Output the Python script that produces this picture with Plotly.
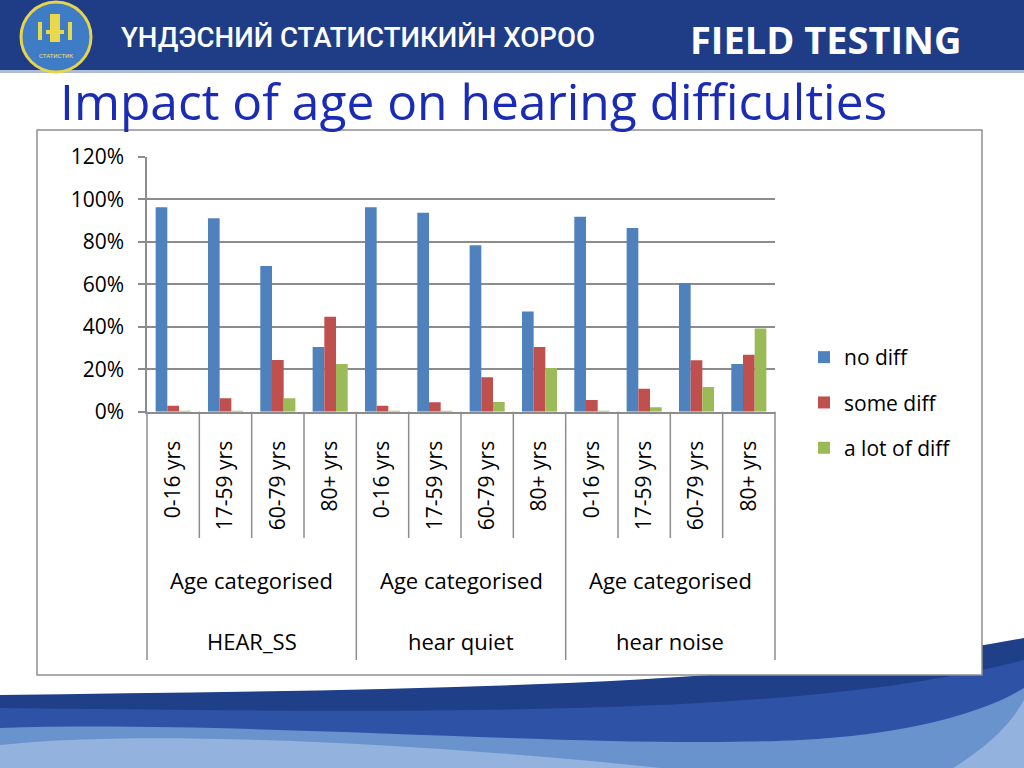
import plotly.graph_objects as go

# ---------------- data ----------------
groups = ["HEAR_SS", "hear quiet", "hear noise"]
level2 = "Age categorised"
ages = ["0-16 yrs", "17-59 yrs", "60-79 yrs", "80+ yrs"]
series_names = ["no diff", "some diff", "a lot of diff"]
no_diff = [96.2, 91.0, 68.6, 30.4, 96.2, 93.6, 78.3, 47.2, 91.8, 86.4, 60.6, 22.4]
some_diff = [2.8, 6.3, 24.3, 44.7, 2.8, 4.4, 16.2, 30.4, 5.5, 10.8, 24.2, 26.8]
a_lot_diff = [0.4, 0.3, 6.3, 22.4, 0.3, 0.2, 4.6, 20.6, 0.2, 2.1, 11.6, 39.2]
y_ticks = [0, 20, 40, 60, 80, 100, 120]
y_tick_labels = [f"{v}%" for v in y_ticks]

colors = ["#4F81BD", "#C0504D", "#9BBB59"]
W, H = 1024, 768
FONT = "Open Sans"
GRAY = "#8C8C8C"

keys = [f"{g}|{a}" for g in groups for a in ages]
tick_text = [a for g in groups for a in ages]

def px(x):
    return x / W

def py(y):
    return 1 - y / H

def P(x, y):
    return f"{px(x):.4f},{py(y):.4f}"

fig = go.Figure()
for name, vals, col in zip(series_names, [no_diff, some_diff, a_lot_diff], colors):
    fig.add_trace(go.Bar(x=keys, y=vals, name=name, marker=dict(color=col, line=dict(width=0)),
                         legendgroup=name))

# plot area geometry (pixels)
X0, X1 = 147, 775
Y0, Y1 = 411.7, 156.7

shapes = []
# footer waves
shapes.append(dict(type="path", xref="paper", yref="paper", layer="below", line=dict(width=0),
                   fillcolor="#1F3F88",
                   path=f"M {P(0,695)} C {P(350,690)} {P(750,690)} {P(1024,638)} L {P(1024,770)} L {P(0,770)} Z"))
shapes.append(dict(type="path", xref="paper", yref="paper", layer="below", line=dict(width=0),
                   fillcolor="#2E52A6",
                   path=f"M {P(0,708)} C {P(400,712)} {P(800,720)} {P(1024,660)} L {P(1024,770)} L {P(0,770)} Z"))
shapes.append(dict(type="path", xref="paper", yref="paper", layer="below", line=dict(width=0),
                   fillcolor="#6993CD",
                   path=f"M {P(0,728)} C {P(250,720)} {P(600,750)} {P(800,740)} C {P(900,735)} {P(980,715)} {P(1024,688)} L {P(1024,770)} L {P(0,770)} Z"))
shapes.append(dict(type="path", xref="paper", yref="paper", layer="below", line=dict(width=0),
                   fillcolor="#93B2DD",
                   path=f"M {P(0,745)} C {P(150,728)} {P(450,745)} {P(680,770)} L {P(0,770)} Z"))
shapes.append(dict(type="path", xref="paper", yref="paper", layer="below", line=dict(width=0),
                   fillcolor="#93B2DD",
                   path=f"M {P(950,770)} C {P(990,745)} {P(1010,725)} {P(1024,700)} L {P(1024,770)} Z"))
# header
shapes.append(dict(type="rect", xref="paper", yref="paper", layer="below", line=dict(width=0),
                   fillcolor="#1F3D86", x0=0, x1=1, y0=py(70), y1=1))
shapes.append(dict(type="rect", xref="paper", yref="paper", layer="below", line=dict(width=0),
                   fillcolor="#AEBCD8", x0=0, x1=1, y0=py(73), y1=py(70)))
# logo
shapes.append(dict(type="circle", xref="paper", yref="paper", layer="below",
                   line=dict(color="#E5D44C", width=3), fillcolor="#3F7CC6",
                   x0=px(21), x1=px(91), y0=py(72), y1=py(2)))
for (a, b, c, d) in [(50, 14, 60, 42), (38, 22, 42, 40), (68, 22, 72, 40), (46, 30, 64, 34)]:
    shapes.append(dict(type="rect", xref="paper", yref="paper", layer="below", line=dict(width=0),
                       fillcolor="#E8D84A", x0=px(a), x1=px(c), y0=py(d), y1=py(b)))
# chart box
shapes.append(dict(type="rect", xref="paper", yref="paper", layer="below",
                   line=dict(color="#8F8F8F", width=1.5), fillcolor="white",
                   x0=px(37), x1=px(982), y0=py(675), y1=py(130)))
# category separators
n = len(keys)
for k in range(n + 1):
    long_line = (k % len(ages) == 0)
    shapes.append(dict(type="line", xref="x domain", yref="paper",
                       x0=k / n, x1=k / n, y0=py(Y0), y1=py(660 if long_line else 538),
                       line=dict(color=GRAY, width=1.5)))

annotations = []
# header texts
annotations.append(dict(text="ҮНДЭСНИЙ СТАТИСТИКИЙН ХОРОО", x=px(119), y=py(38), xref="paper", yref="paper",
                        xanchor="left", yanchor="middle", showarrow=False,
                        font=dict(family="Roboto", size=27.6, color="white", weight=500)))
annotations.append(dict(text="<b>FIELD TESTING</b>", x=px(825), y=py(39), xref="paper", yref="paper",
                        xanchor="center", yanchor="middle", showarrow=False,
                        font=dict(family=FONT, size=38, color="white")))
annotations.append(dict(text="СТАТИСТИК", x=px(56), y=py(55), xref="paper", yref="paper",
                        xanchor="center", yanchor="middle", showarrow=False,
                        font=dict(family="Roboto", size=6, color="#F2E06A")))
# title
annotations.append(dict(text="Impact of age on hearing difficulties", x=px(58), y=py(101), xref="paper", yref="paper",
                        xanchor="left", yanchor="middle", showarrow=False,
                        font=dict(family=FONT, size=49.7, color="#1A2BB5")))
# group labels
for gi, g in enumerate(groups):
    xc = (gi * len(ages) + len(ages) / 2) / n
    annotations.append(dict(text=level2, x=xc, y=py(580), xref="x domain", yref="paper",
                            xanchor="center", yanchor="middle", showarrow=False,
                            font=dict(family=FONT, size=22, color="black")))
    annotations.append(dict(text=g, x=xc, y=py(641), xref="x domain", yref="paper",
                            xanchor="center", yanchor="middle", showarrow=False,
                            font=dict(family=FONT, size=22, color="black")))

fig.update_layout(
    width=W, height=H, autosize=False,
    margin=dict(l=0, r=0, t=0, b=0, pad=0, autoexpand=False),
    paper_bgcolor="white", plot_bgcolor="rgba(0,0,0,0)",
    barmode="group", bargap=0.33, bargroupgap=0,
    shapes=shapes, annotations=annotations,
    font=dict(family=FONT, color="black"),
    legend=dict(x=px(804), y=py(337), xanchor="left", yanchor="top",
                font=dict(family=FONT, size=21, color="black"),
                traceorder="grouped", tracegroupgap=15, bgcolor="rgba(0,0,0,0)"),
    xaxis=dict(domain=[px(X0), px(X1)], type="category", tickvals=keys, ticktext=tick_text,
               tickangle=-90, ticks="", showgrid=False, showline=True, linecolor=GRAY, linewidth=1.5,
               automargin=False,
               tickfont=dict(family=FONT, size=21, color="black"), ticklabelstandoff=19),
    yaxis=dict(domain=[py(Y0), py(Y1)], range=[0, 120], tickvals=y_ticks, ticktext=y_tick_labels,
               showgrid=True, gridcolor=GRAY, gridwidth=1.5, zeroline=False,
               showline=True, linecolor=GRAY, linewidth=1.5, automargin=False,
               ticks="outside", ticklen=7, tickcolor=GRAY, tickwidth=1.5,
               tickfont=dict(family=FONT, size=21, color="black"), ticklabelstandoff=10),
)

fig.write_html(
    "out.html",
    config={"responsive": False, "displayModeBar": False},
    post_script=(
        "document.documentElement.style.margin='0';"
        "document.documentElement.style.overflow='hidden';"
        "document.body.style.margin='0';document.body.style.overflow='hidden';"
        "var d=document.getElementById('{plot_id}');"
        "d.style.position='fixed';d.style.left='0px';d.style.top='0px';"
        "d.style.width='1024px';d.style.height='768px';"
    ),
)
